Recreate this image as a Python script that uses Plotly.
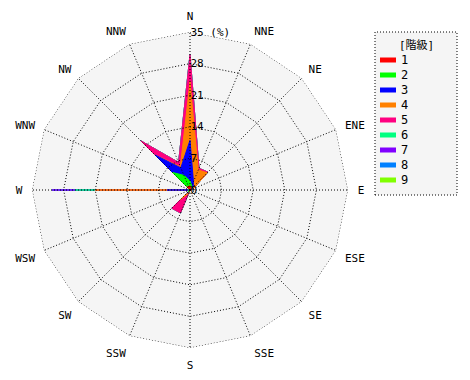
import numpy as np
import plotly.graph_objects as go

directions = ["N", "NNE", "NE", "ENE", "E", "ESE", "SE", "SSE",
              "S", "SSW", "SW", "WSW", "W", "WNW", "NW", "NNW"]
class_labels = ["1", "2", "3", "4", "5", "6", "7", "8", "9"]
class_colors = ["#ff0000", "#00ff00", "#0000ff", "#ff8000", "#ff0080",
                "#00ff80", "#8000ff", "#0080ff", "#80ff00"]

# frequency (%) of each class per direction
class1 = [1.0, 0.5, 0.3, 0.2, 0, 0, 0, 0, 0, 0.3, 0.3, 0, 0.2, 0, 1.0, 0.8]
class2 = [1.0, 0.5, 0.2, 0, 0, 0, 0, 0, 0, 0, 0.2, 0, 0.2, 0, 4.5, 2.7]
class3 = [9.0, 1.0, 0.5, 0.2, 0, 0, 0, 0, 0, 0, 0.5, 0, 4.7, 0, 5.5, 1.8]
class4 = [13.0, 2.8, 4.4, 0.4, 0, 0, 0, 0, 0, 0.5, 2.0, 0, 15.9, 0, 0, 0.3]
class5 = [6.0, 0.4, 0.2, 0, 0, 0, 0, 0, 0, 4.7, 2.7, 0, 0, 0, 4.4, 1.0]
class6 = [0, 0, 0, 0, 0, 0, 0, 0, 0, 0, 0, 0, 4.5, 0, 0, 0]
class7 = [0, 0, 0, 0, 0, 0, 0, 0, 0, 0, 0, 0, 5.1, 0, 0, 0]
class8 = [0] * 16
class9 = [0] * 16

radial_ticks = [0, 7, 14, 21, 28, 35]
radial_ticktext = ["0", "7", "14", "21", "28", "35 (%)"]
legend_title = "[階級]"

classes = [class1, class2, class3, class4, class5, class6, class7, class8, class9]
cum = np.cumsum(np.array(classes, dtype=float), axis=0)

FONT = "DejaVu Sans Mono, Noto Sans CJK JP, monospace"
DOT = "1px,2px"

fig = go.Figure()
closed_theta = directions + [directions[0]]
for k in reversed(range(len(classes))):
    r = list(cum[k]) + [cum[k][0]]
    fig.add_trace(go.Scatterpolar(
        r=r, theta=closed_theta, mode="lines", fill="toself",
        fillcolor=class_colors[k],
        line=dict(color=class_colors[k], width=1),
        name=class_labels[k], hoverinfo="skip", showlegend=False))

# dotted grid drawn above the filled areas
for t in radial_ticks[1:]:
    fig.add_trace(go.Scatterpolar(
        r=[t] * len(closed_theta), theta=closed_theta, mode="lines",
        line=dict(color="black", width=1, dash=DOT),
        hoverinfo="skip", showlegend=False))
spoke_r, spoke_t = [], []
for d in directions:
    spoke_r += [0, radial_ticks[-1], None]
    spoke_t += [d, d, d]
fig.add_trace(go.Scatterpolar(
    r=spoke_r, theta=spoke_t, mode="lines", connectgaps=False,
    line=dict(color="black", width=1, dash=DOT),
    hoverinfo="skip", showlegend=False))

# legend drawn as a boxed key
LX0, LX1, LY0, LY1 = 375, 457, 32, 195
shapes = [dict(type="rect", xref="paper", yref="paper",
               x0=LX0 / 470, x1=LX1 / 470, y0=1 - LY1 / 380, y1=1 - LY0 / 380,
               fillcolor="#f5f5f5", line=dict(color="black", width=1, dash=DOT),
               layer="below")]
annotations = [dict(text=legend_title, xref="paper", yref="paper",
                    x=(LX0 + LX1) / 2 / 470, y=1 - 45 / 380, showarrow=False,
                    xanchor="center", yanchor="middle",
                    font=dict(family=FONT, size=11, color="black"))]
for i, (lab, col) in enumerate(zip(class_labels, class_colors)):
    yc = 60 + 15 * i
    shapes.append(dict(type="rect", xref="paper", yref="paper",
                       x0=380 / 470, x1=396 / 470,
                       y0=1 - (yc + 2.5) / 380, y1=1 - (yc - 2.5) / 380,
                       fillcolor=col, line=dict(width=0)))
    annotations.append(dict(text=lab, xref="paper", yref="paper",
                            x=399 / 470, y=1 - yc / 380, showarrow=False,
                            xanchor="left", yanchor="middle",
                            font=dict(family=FONT, size=12, color="black")))

fig.update_layout(
    width=470, height=380,
    margin=dict(l=0, r=0, t=0, b=0),
    paper_bgcolor="white",
    font=dict(family=FONT, size=11, color="black"),
    showlegend=False,
    polar=dict(
        domain=dict(x=[32 / 470, 348 / 470], y=[1 - 348 / 380, 1 - 32 / 380]),
        bgcolor="#f5f5f5",
        gridshape="linear",
        radialaxis=dict(range=[0, 35], tickvals=radial_ticks, ticktext=radial_ticktext,
                        angle=90, tickangle=90, side="clockwise",
                        showline=False, ticks="", showgrid=False,
                        layer="above traces",
                        tickfont=dict(family=FONT, size=11)),
        angularaxis=dict(type="category", categoryarray=directions, rotation=90,
                         direction="clockwise", showline=False,
                         ticks="outside", ticklen=7, tickcolor="rgba(0,0,0,0)",
                         showgrid=False, tickfont=dict(family=FONT, size=11)),
    ),
    shapes=shapes,
    annotations=annotations,
)

fig.write_html("out.html", config={"displayModeBar": False},
               post_script="document.body.style.margin='0';")
